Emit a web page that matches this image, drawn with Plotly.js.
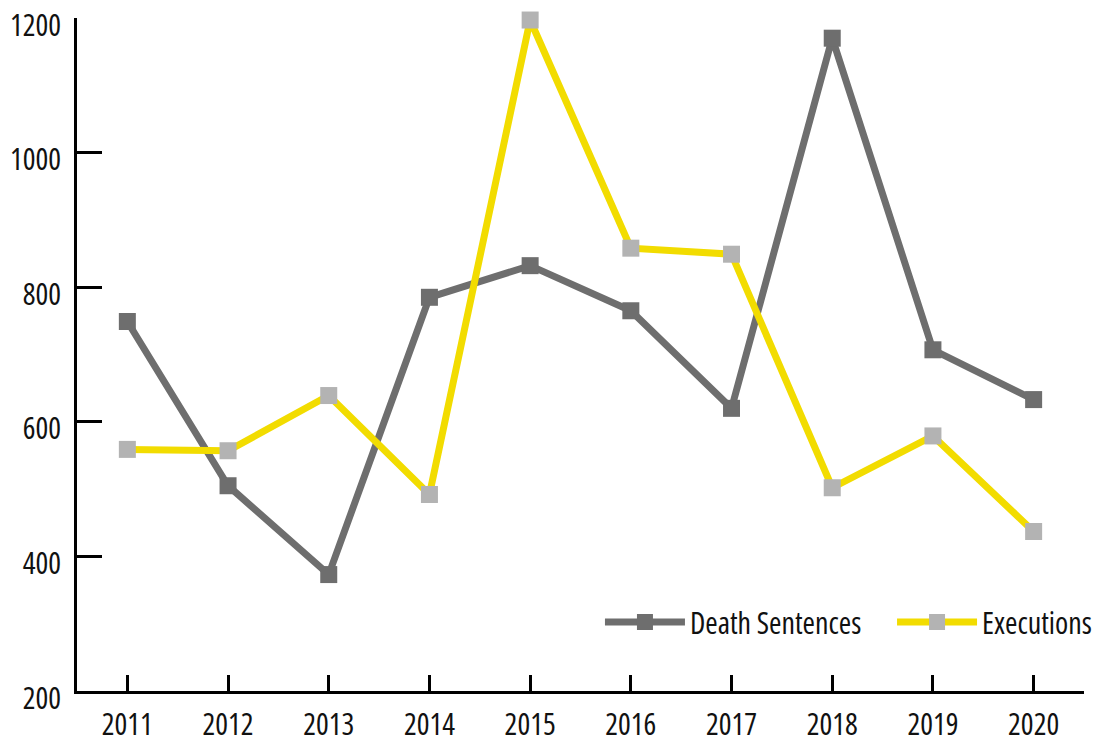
<!DOCTYPE html>
<html>
<head>
<meta charset="utf-8">
<script src="https://cdn.plot.ly/plotly-3.0.1.min.js"></script>
<style>
html,body{margin:0;padding:0;background:#fff;}#chart{width:1099px;height:742px;}
svg text { font-stretch: 75% !important; }
</style>
</head>
<body>
<div id="chart"></div>
<script>
const years = [2011, 2012, 2013, 2014, 2015, 2016, 2017, 2018, 2019, 2020];
const deathSentences = [749, 505, 373, 785, 832, 765, 620, 1170, 707, 633];
const executions = [559, 557, 639, 492, 1197, 858, 849, 502, 579, 437];
const yTicks = [200, 400, 600, 800, 1000, 1200];

const FONT = '"Open Sans", sans-serif';
const FS = 30;

const traces = [
  {
    x: years, y: deathSentences, name: 'Death Sentences', type: 'scatter', mode: 'lines+markers',
    line: {color: '#6e6e6e', width: 7},
    marker: {symbol: 'square', size: 17, color: '#6e6e6e'},
    cliponaxis: false, legend: 'legend'
  },
  {
    x: years, y: executions, name: 'Executions', type: 'scatter', mode: 'lines+markers',
    line: {color: '#f2dc00', width: 7},
    marker: {symbol: 'square', size: 17, color: '#b3b3b3'},
    cliponaxis: false, legend: 'legend2'
  }
];

const legendCommon = {
  orientation: 'h', xanchor: 'left', y: 0.1025, yanchor: 'middle',
  itemwidth: 80,
  font: {family: FONT, size: FS, color: '#111111'}, bgcolor: 'rgba(0,0,0,0)'
};

const layout = {
  width: 1099, height: 742,
  margin: {l: 77, r: 0, t: 18, b: 51},
  paper_bgcolor: '#ffffff', plot_bgcolor: '#ffffff',
  font: {family: FONT, size: FS, color: '#111111'},
  showlegend: true,
  legend: Object.assign({}, legendCommon, {x: 0.5117}),
  legend2: Object.assign({}, legendCommon, {x: 0.7975}),
  xaxis: {
    domain: [0, 0.9853],
    range: [2010.5, 2020.5], tickvals: years, ticktext: years.map(String),
    showgrid: false, zeroline: false, showline: true, linecolor: '#000', linewidth: 3,
    ticks: 'inside', ticklen: 16, tickwidth: 3, tickcolor: '#000',
    ticklabelstandoff: 5, ticklabeloverflow: 'allow',
    tickfont: {family: FONT, size: FS, color: '#111111'}
  },
  yaxis: {
    range: [200, 1200], tickvals: yTicks, ticktext: yTicks.map(String),
    showgrid: false, zeroline: false, showline: true, linecolor: '#000', linewidth: 3,
    ticks: 'inside', ticklen: 25, tickwidth: 3, tickcolor: '#000',
    ticklabelstandoff: 7, ticklabelshift: 7, ticklabeloverflow: 'allow',
    tickfont: {family: FONT, size: FS, color: '#111111'}
  }
};

Plotly.newPlot('chart', traces, layout, {displayModeBar: false, staticPlot: true});
</script>
</body>
</html>
